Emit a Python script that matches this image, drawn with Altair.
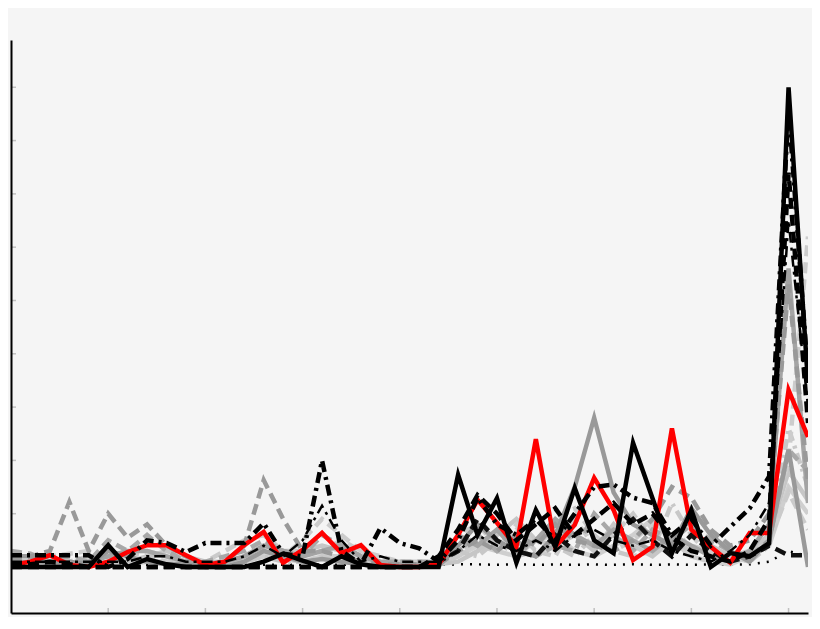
import altair as alt
import pandas as pd

# ---------------- data ----------------
steps = [0, 1, 2, 3, 4, 5, 6, 7, 8, 9, 10, 11, 12, 13, 14, 15, 16, 17, 18, 19, 20,
         21, 22, 23, 24, 25, 26, 27, 28, 29, 30, 31, 32, 33, 34, 35, 36, 37, 38, 39, 40, 41]

x_ticks = [0, 5, 10, 15, 20, 25, 30, 35, 40]
y_ticks = [0, 1, 2, 3, 4, 5, 6, 7, 8, 9]

black_solid = [0, 0, 0, 0, 0, 0.41, 0, 0.15, 0.05, 0, 0, 0, 0, 0.1, 0.25, 0.12, 0, 0.2, 0.05, 0, 0,
               0, 0, 1.73, 0.6, 1.29, 0.08, 1.07, 0.38, 1.48, 0.5, 0.26, 2.33, 1.29, 0.26, 1.07, 0, 0.26, 0.2, 0.45, 9.0, 3.45]
red_solid = [0.03, 0.1, 0.22, 0.04, 0, 0.1, 0.28, 0.41, 0.41, 0.22, 0.04, 0.1, 0.41, 0.66, 0.08, 0.32, 0.64, 0.26, 0.41, 0.04, 0,
             0, 0.05, 0.6, 1.26, 0.83, 0.38, 2.4, 0.38, 0.79, 1.67, 1.07, 0.13, 0.38, 2.6, 0.7, 0.38, 0.08, 0.64, 0.64, 3.32, 2.44]
black_dashdot = [0.22, 0.22, 0.22, 0.22, 0.22, 0.0, 0.15, 0.5, 0.45, 0.28, 0.45, 0.45, 0.45, 0.82, 0.25, 0.2, 2.0, 0.3, 0.05, 0.73, 0.45,
                 0.35, 0.1, 0.5, 1.3, 0.8, 0.6, 0.9, 0.5, 1.0, 1.5, 1.55, 1.3, 1.2, 0.6, 0.9, 0.4, 0.75, 1.1, 1.7, 8.6, 3.6]
black_dashed = [0.05, 0.05, 0.1, 0.05, 0, 0, 0, 0, 0, 0, 0, 0, 0, 0, 0, 0, 0, 0, 0, 0, 0,
                0, 0.2, 0.7, 1.35, 1.0, 0.5, 0.8, 1.1, 0.6, 0.9, 1.2, 0.8, 1.0, 0.55, 0.3, 0.2, 0.1, 0.3, 0.9, 7.4, 2.7]
black_thin_dashdot = [0.1, 0.1, 0.1, 0.1, 0.1, 0.1, 0.1, 0.2, 0.2, 0.1, 0.1, 0.1, 0.2, 0.4, 0.2, 0.5, 1.15, 0.5, 0.1, 0.2, 0.1,
                      0.1, 0.1, 0.3, 0.6, 0.4, 0.3, 0.5, 0.3, 0.6, 0.7, 0.5, 0.4, 0.5, 0.3, 0.2, 0.1, 0.3, 0.6, 1.2, 6.5, 3.0]
black_low_dashed = [0, 0, 0, 0, 0, 0, 0, 0, 0, 0, 0, 0, 0, 0, 0, 0, 0, 0, 0, 0, 0,
                    0, 0.1, 0.3, 0.9, 0.5, 0.3, 0.2, 0.6, 0.3, 0.2, 0.6, 0.9, 0.5, 0.2, 0.6, 0.3, 0.1, 0.2, 0.4, 0.22, 0.22]
black_dotted = [0.04, 0.04, 0.04, 0.04, 0.04, 0.04, 0.04, 0.04, 0.04, 0.04, 0.04, 0.04, 0.04, 0.04, 0.04, 0.04, 0.04, 0.04, 0.04, 0.04, 0.04,
                0.04, 0.04, 0.05, 0.05, 0.04, 0.05, 0.04, 0.05, 0.04, 0.05, 0.04, 0.05, 0.04, 0.05, 0.04, 0.05, 0.04, 0.05, 0.1, 0.3, 0.2]
gray_dashed = [0.15, 0.2, 0.3, 1.22, 0.3, 1.0, 0.55, 0.8, 0.4, 0.2, 0.05, 0.1, 0.4, 1.63, 0.9, 0.3, 0.3, 0.2, 0.1, 0.05, 0.05,
               0.05, 0.05, 0.3, 0.5, 0.3, 0.6, 0.4, 0.8, 0.5, 0.4, 0.3, 0.5, 0.9, 1.5, 1.3, 0.7, 0.4, 0.5, 1.0, 5.3, 1.6]
gray_solid = [0.2, 0.2, 0.05, 0.1, 0.05, 0.3, 0.2, 0.1, 0.05, 0.05, 0, 0, 0.1, 0.3, 0.2, 0.1, 0.15, 0.1, 0.05, 0, 0,
              0, 0.02, 0.4, 0.8, 0.5, 0.3, 0.2, 0.6, 1.5, 2.8, 1.4, 0.8, 0.6, 0.4, 1.1, 0.6, 0.3, 0.1, 0.5, 2.2, 0.0]
gray_solid_b = [0.1, 0.1, 0.1, 0.05, 0.1, 0.2, 0.3, 0.3, 0.2, 0.1, 0.05, 0.1, 0.2, 0.4, 0.3, 0.2, 0.3, 0.4, 0.2, 0.1, 0.05,
                0.05, 0.05, 0.6, 0.4, 0.7, 0.3, 0.5, 0.9, 0.6, 0.4, 0.7, 0.5, 0.3, 0.6, 0.4, 0.2, 0.1, 0.3, 0.8, 5.6, 1.2]
gray_dashed_b = [0.3, 0.25, 0.1, 0.2, 0.1, 0.5, 0.3, 0.6, 0.3, 0.1, 0.1, 0.2, 0.3, 0.5, 0.3, 0.2, 0.6, 0.4, 0.2, 0.1, 0.1,
                 0.1, 0.1, 0.3, 0.6, 0.3, 0.5, 0.2, 0.4, 0.3, 1.0, 0.6, 0.3, 0.7, 0.5, 0.8, 0.5, 0.3, 0.2, 0.5, 2.2, 1.8]
light_dashed = [0.1, 0.1, 0.1, 0.1, 0.2, 0.3, 0.2, 0.3, 0.2, 0.1, 0.1, 0.1, 0.2, 0.3, 0.2, 0.5, 0.9, 0.6, 0.3, 0.2, 0.1,
                0.1, 0.05, 0.2, 0.5, 0.3, 0.8, 0.4, 0.9, 1.1, 0.6, 0.3, 0.5, 0.8, 0.6, 0.4, 0.3, 0.2, 0.1, 0.6, 2.0, 6.2]
light_solid = [0.05, 0.05, 0.05, 0.05, 0.05, 0.1, 0.1, 0.2, 0.3, 0.2, 0.1, 0.05, 0.2, 0.4, 0.3, 0.3, 0.4, 0.3, 0.2, 0.05, 0.05,
               0.05, 0.05, 0.1, 0.3, 0.6, 0.9, 0.5, 0.4, 0.6, 0.3, 0.8, 0.4, 0.2, 0.5, 0.3, 0.4, 0.2, 0.3, 0.6, 1.8, 1.25]
light_solid_b = [0.02, 0.02, 0.02, 0.02, 0.02, 0.05, 0.05, 0.1, 0.1, 0.05, 0.05, 0.05, 0.1, 0.2, 0.15, 0.1, 0.2, 0.2, 0.1, 0.05, 0.05,
                 0.05, 0.05, 0.2, 0.4, 0.3, 0.2, 0.5, 0.6, 0.3, 0.2, 0.4, 0.6, 0.9, 0.5, 0.2, 0.1, 0.05, 0.2, 0.4, 1.5, 1.0]
light_dashed_b = [0.2, 0.2, 0.2, 0.25, 0.3, 0.2, 0.3, 0.2, 0.1, 0.1, 0.1, 0.3, 0.5, 0.6, 0.3, 0.2, 0.3, 0.5, 0.3, 0.1, 0.1,
                  0.1, 0.1, 0.6, 0.8, 0.4, 0.7, 0.3, 0.2, 0.9, 0.4, 0.6, 1.0, 0.5, 0.3, 0.6, 0.2, 0.1, 0.3, 0.5, 1.4, 0.7]
light_dashdot = [0.1, 0.1, 0.1, 0.1, 0.15, 0.2, 0.1, 0.1, 0.1, 0.05, 0.05, 0.05, 0.1, 0.2, 0.1, 0.1, 0.2, 0.1, 0.1, 0.05, 0.05,
                 0.05, 0.05, 0.3, 0.2, 0.5, 0.2, 0.3, 0.4, 0.2, 0.6, 0.3, 0.2, 0.3, 1.2, 0.6, 0.3, 0.2, 0.1, 0.4, 2.6, 1.5]

SERIES = {
    "black_dotted": black_dotted,
    "light_solid_b": light_solid_b,
    "light_dashed_b": light_dashed_b,
    "light_dashdot": light_dashdot,
    "light_solid": light_solid,
    "light_dashed": light_dashed,
    "gray_dashed_b": gray_dashed_b,
    "gray_solid_b": gray_solid_b,
    "gray_solid": gray_solid,
    "gray_dashed": gray_dashed,
    "black_low_dashed": black_low_dashed,
    "red_solid": red_solid,
    "black_thin_dashdot": black_thin_dashdot,
    "black_dashed": black_dashed,
    "black_dashdot": black_dashdot,
    "black_solid": black_solid,
}

# styles (colour, dash, width)
DASH = [11, 6]
DASHDOT = [11, 5, 3, 5]
DOT = [2, 7]
STYLE = {
    "black_dotted": ("#000000", DOT, 2.5),
    "light_solid_b": ("#cfcfcf", None, 4.5),
    "light_dashed_b": ("#cbcbcb", DASH, 4.5),
    "light_dashdot": ("#c8c8c8", DASHDOT, 4.5),
    "light_solid": ("#c6c6c6", None, 4.5),
    "light_dashed": ("#cccccc", DASH, 4.5),
    "gray_dashed_b": ("#a8a8a8", DASH, 4.5),
    "gray_solid_b": ("#a4a4a4", None, 4.5),
    "gray_solid": ("#999999", None, 4.5),
    "gray_dashed": ("#999999", DASH, 4.5),
    "black_low_dashed": ("#111111", DASH, 4.5),
    "red_solid": ("#ff0000", None, 4.5),
    "black_thin_dashdot": ("#000000", DASHDOT, 2.5),
    "black_dashed": ("#000000", DASH, 4.5),
    "black_dashdot": ("#000000", DASHDOT, 4.5),
    "black_solid": ("#000000", None, 4.5),
}

rows = []
for name, vals in SERIES.items():
    for s, v in zip(steps, vals):
        rows.append({"step": s, "value": v, "series": name})
df = pd.DataFrame(rows)

x_scale = alt.Scale(domain=[0, 41], nice=False, zero=False)
y_scale = alt.Scale(domain=[-0.863, 9.887], nice=False, zero=False)

x_axis = alt.Axis(labels=False, ticks=False, title=None, grid=False,
                  domainColor="#000000", domainWidth=2, zindex=1)
y_axis = alt.Axis(labels=False, ticks=False, title=None, grid=False,
                  domainColor="#000000", domainWidth=2, zindex=1)

layers = []
for name in SERIES:
    color, dash, width = STYLE[name]
    kw = dict(color=color, strokeWidth=width, clip=True)
    if dash:
        kw["strokeDash"] = dash
    layers.append(
        alt.Chart(df)
        .transform_filter(alt.datum.series == name)
        .mark_line(**kw)
        .encode(
            x=alt.X("step:Q", scale=x_scale, axis=x_axis),
            y=alt.Y("value:Q", scale=y_scale, axis=y_axis),
        )
    )

# inward tick marks (half of each tick is clipped by the plot edge)
ytick_df = pd.DataFrame({"v": y_ticks})
xtick_df = pd.DataFrame({"v": x_ticks})

y_tick_layer = (
    alt.Chart(ytick_df)
    .mark_tick(orient="horizontal", size=10, thickness=1.5, color="#aaaaaa", clip=True)
    .encode(
        y=alt.Y("v:Q", scale=y_scale, axis=y_axis),
        x=alt.datum(0, scale=x_scale),
    )
)
x_tick_layer = (
    alt.Chart(xtick_df)
    .mark_tick(orient="vertical", size=10, thickness=1.5, color="#aaaaaa", clip=True)
    .encode(
        x=alt.X("v:Q", scale=x_scale, axis=x_axis),
        y=alt.datum(-0.863, scale=y_scale),
    )
)

chart = (
    alt.layer(y_tick_layer, x_tick_layer, *layers)
    .properties(
        width=797,
        height=573,
        background="#f5f5f5",
        padding={"left": 3, "top": 32, "right": 4, "bottom": 4},
        autosize=alt.AutoSizeParams(type="none"),
    )
    .configure_view(stroke=None)
)

chart.save("out.html", embed_options={"renderer": "svg", "actions": False})
